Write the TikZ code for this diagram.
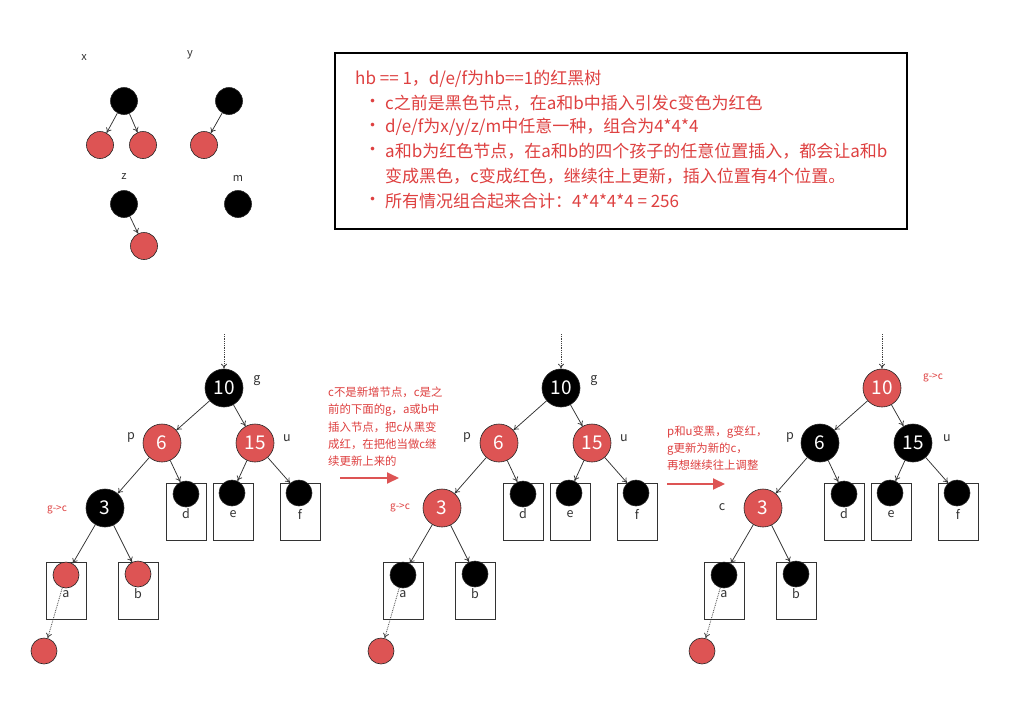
\documentclass[tikz,border=0pt]{standalone}
\usepackage{fontspec}
\setmainfont{Noto Sans CJK SC}
\usetikzlibrary{arrows.meta}
\definecolor{rbred}{RGB}{221,84,84}
\definecolor{txtred}{RGB}{222,64,64}
\tikzset{
 bignode/.style={circle, minimum size=38pt, inner sep=0pt, draw=black!85, line width=0.6pt, text=white, font=\fontsize{19}{21}\selectfont},
 bigb/.style={bignode, fill=black},
 bigr/.style={bignode, fill=rbred},
 smnode/.style={circle, minimum size=26pt, inner sep=0pt, draw=black!85, line width=0.6pt},
 smb/.style={smnode, fill=black},
 smr/.style={smnode, fill=rbred},
 leafbox/.style={draw=black!80, line width=0.8pt, minimum width=40pt, minimum height=57pt, inner sep=0pt},
 conn/.style={draw=black!80, line width=0.75pt, -{To[length=5pt,width=6pt]}},
 dotconn/.style={draw=black!75, densely dotted, line width=0.8pt, -{To[length=5pt,width=6pt]}},
 lbl/.style={font=\fontsize{12.5}{14}\selectfont, text=black!80, inner sep=0pt},
 slbl/.style={font=\fontsize{11}{12}\selectfont, text=black!80, inner sep=0pt},
 rlbl/.style={font=\fontsize{10}{11}\selectfont, text=txtred, inner sep=0pt},
 boxtxt/.style={anchor=west, inner sep=0pt, text=txtred, font=\fontsize{17}{20}\selectfont},
 notetxt/.style={anchor=west, inner sep=0pt, text=txtred, font=\fontsize{11.4}{13}\selectfont},
 redarr/.style={draw=rbred, line width=1.9pt, -{Triangle[length=12pt,width=11pt]}},
}
% #1 prefix, #2 x shift, #3 g, #4 p, #5 u, #6 c, #7 a, #8 b styles
\newcommand\rbtree[8]{%
\begin{scope}[shift={(#2,0)}]
 \coordinate (#1top) at (224,334);
 \node[leafbox] (#1bd) at (186,512) {};
 \node[leafbox] (#1be) at (233,512) {};
 \node[leafbox] (#1bf) at (300,512) {};
 \node[leafbox] (#1ba) at (66,590.5) {};
 \node[leafbox] (#1bb) at (138,590.5) {};
 \node[lbl] (#1ld) at (186,514) {d};
 \node[lbl] (#1le) at (233,514) {e};
 \node[lbl] (#1lf) at (300,514) {f};
 \node[lbl] (#1la) at (66,594) {a};
 \node[lbl] (#1lb) at (138,594) {b};
 \node[#3] (#1g) at (224,388) {10};
 \node[#4] (#1p) at (162,443) {6};
 \node[#5] (#1u) at (255,443) {15};
 \node[#6] (#1c) at (105,508) {3};
 \node[smb] (#1d) at (186,494) {};
 \node[smb] (#1e) at (232,493) {};
 \node[smb] (#1f) at (299,493) {};
 \node[#7] (#1a) at (66,575) {};
 \node[#8] (#1b) at (138,574) {};
 \node[smr] (#1n) at (44,651) {};
 \draw[dotconn] (#1top) -- (#1g);
 \draw[conn] (#1g) -- (#1p);
 \draw[conn] (#1g) -- (#1u);
 \draw[conn] (#1p) -- (#1c);
 \draw[conn] (#1p) -- (#1d);
 \draw[conn] (#1u) -- (#1e);
 \draw[conn] (#1u) -- (#1f);
 \draw[conn] (#1c) -- (#1a);
 \draw[conn] (#1c) -- (#1b);
 \draw[dotconn] (#1a) -- (#1n);
\end{scope}}
\begin{document}
\begin{tikzpicture}[x=1pt,y=-1pt]
\useasboundingbox[fill=white] (0,0) rectangle (1009,723);

% ---- small trees ----
\node[slbl] (lx) at (84,58) {x};
\node[slbl] (ly) at (190,55) {y};
\node[slbl] (lz) at (124,177) {z};
\node[slbl] (lm) at (238,178) {m};
\node[smb, minimum size=27pt] (xr) at (124,101) {};
\node[smr, minimum size=27pt] (xl) at (100,145) {};
\node[smr, minimum size=27pt] (xrr) at (143,145) {};
\node[smb, minimum size=27pt] (yr) at (229,101) {};
\node[smr, minimum size=27pt] (yl) at (204,145) {};
\node[smb, minimum size=27pt] (zr) at (124,204) {};
\node[smr, minimum size=27pt] (zc) at (144,246) {};
\node[smb, minimum size=27pt] (mr) at (238,204) {};
\draw[conn] (xr) -- (xl);
\draw[conn] (xr) -- (xrr);
\draw[conn] (yr) -- (yl);
\draw[conn] (zr) -- (zc);

% ---- text box ----
\node[draw=black, line width=2.5pt, minimum width=572pt, minimum height=176pt, inner sep=0pt] (tb) at (621,141) {};
\node[boxtxt] (t0) at (355,79) {hb == 1，d/e/f为hb==1的红黑树};
\node[boxtxt] (b1) at (364,103) {•};
\node[boxtxt] (t1) at (385,103) {c之前是黑色节点，在a和b中插入引发c变色为红色};
\node[boxtxt] (b2) at (364,127) {•};
\node[boxtxt] (t2) at (385,127) {d/e/f为x/y/z/m中任意一种，组合为4*4*4};
\node[boxtxt] (b3) at (364,151) {•};
\node[boxtxt] (t3) at (385,151) {a和b为红色节点，在a和b的四个孩子的任意位置插入，都会让a和b};
\node[boxtxt] (t4) at (385,176) {变成黑色，c变成红色，继续往上更新，插入位置有4个位置。};
\node[boxtxt] (b5) at (364,201) {•};
\node[boxtxt] (t5) at (385,201) {所有情况组合起来合计：4*4*4*4 = 256};

% ---- trees ----
\rbtree{A}{0}{bigb}{bigr}{bigr}{bigb}{smr}{smr}
\rbtree{B}{337}{bigb}{bigr}{bigr}{bigr}{smb}{smb}
\rbtree{C}{658}{bigr}{bigb}{bigb}{bigr}{smb}{smb}

% labels tree 1
\node[lbl] (Alg) at (257,381) {g};
\node[lbl] (Alp) at (131,437) {p};
\node[lbl] (Alu) at (287,438) {u};
\node[rlbl] (Alc) at (57,510) {g->c};
% labels tree 2
\node[lbl] (Blg) at (594,381) {g};
\node[lbl] (Blp) at (467,437) {p};
\node[lbl] (Blu) at (624,438) {u};
\node[rlbl] (Blc) at (400,508) {g->c};
% labels tree 3
\node[rlbl] (Clg) at (933,378) {g->c};
\node[lbl] (Clp) at (790,437) {p};
\node[lbl] (Clu) at (947,438) {u};
\node[lbl] (Clc) at (722,507) {c};

% ---- notes and arrows ----
\node[notetxt] (n1) at (328,392) {c不是新增节点，c是之};
\node[notetxt] (n2) at (328,410) {前的下面的g，a或b中};
\node[notetxt] (n3) at (328,427) {插入节点，把c从黑变};
\node[notetxt] (n4) at (328,444) {成红，在把他当做c继};
\node[notetxt] (n5) at (328,461) {续更新上来的};
\coordinate (a1s) at (340,478);
\coordinate (a1e) at (399,478);
\draw[redarr] (a1s) -- (a1e);

\node[notetxt] (m1) at (667,432) {p和u变黑，g变红，};
\node[notetxt] (m2) at (667,449) {g更新为新的c，};
\node[notetxt] (m3) at (667,465) {再想继续往上调整};
\coordinate (a2s) at (667,484);
\coordinate (a2e) at (725,484);
\draw[redarr] (a2s) -- (a2e);
\end{tikzpicture}
\end{document}
